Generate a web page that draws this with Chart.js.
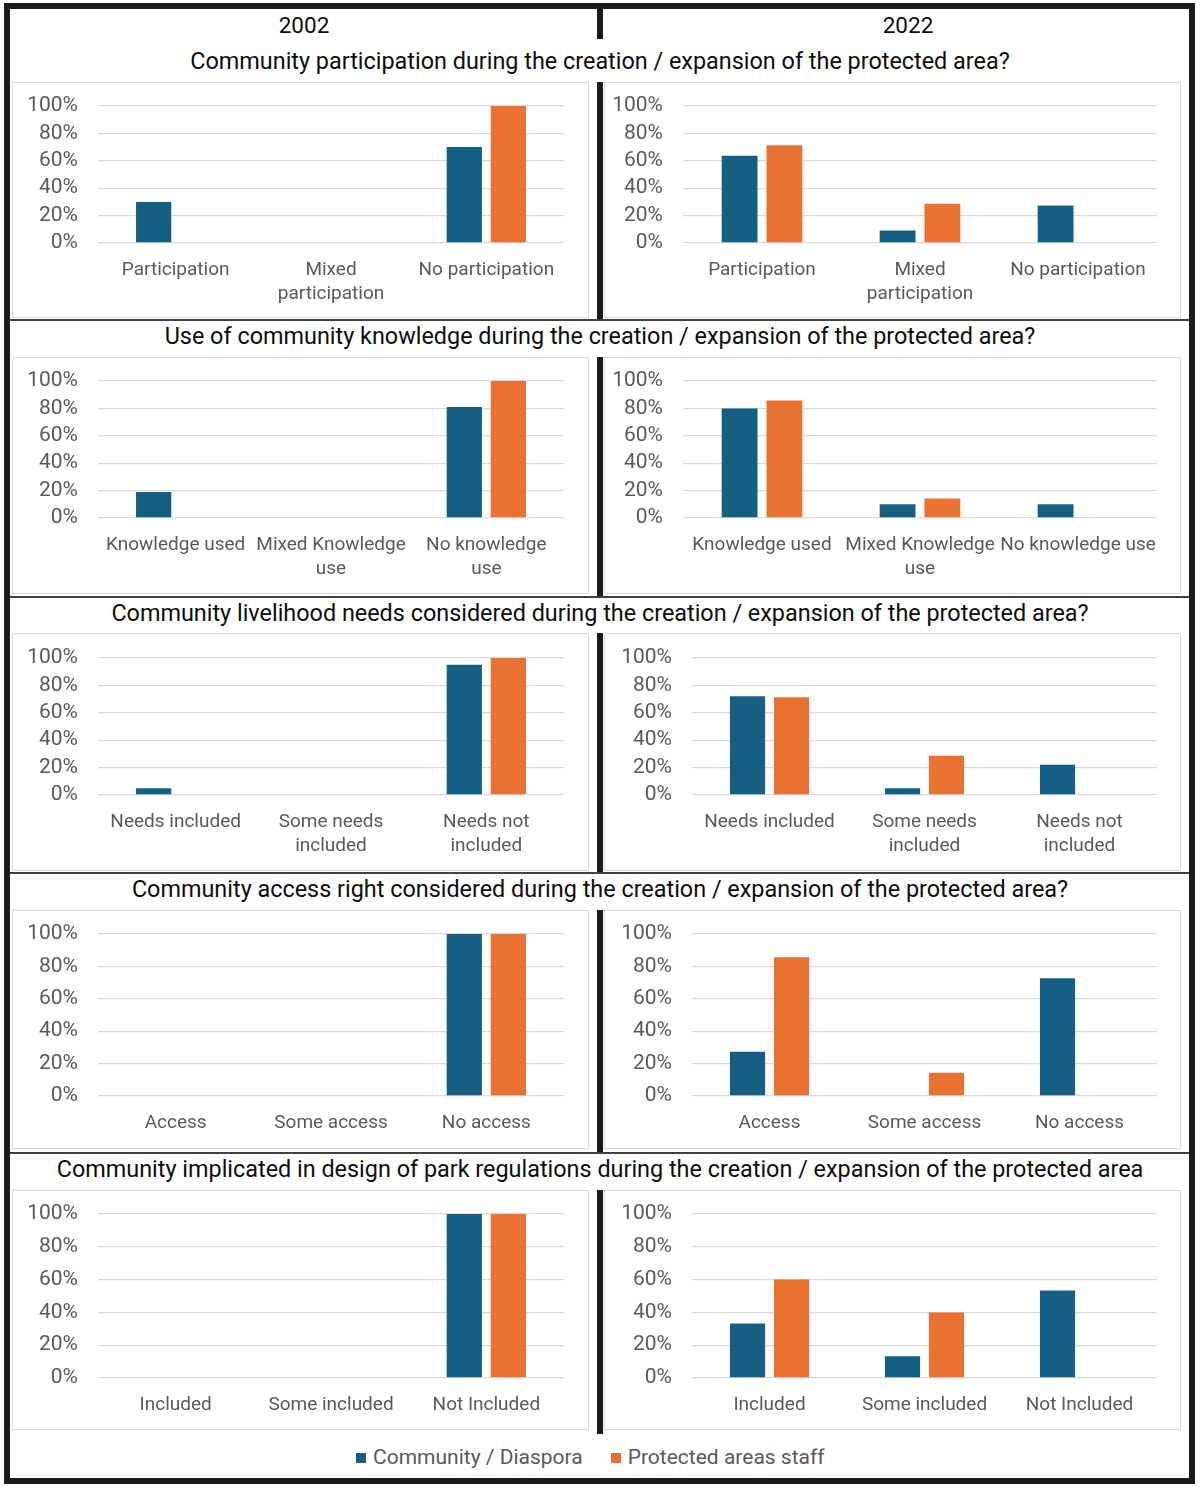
<!DOCTYPE html>
<html>
<head>
<meta charset="utf-8">
<script src="https://cdn.jsdelivr.net/npm/chart.js@4"></script>
<style>
  body { margin: 0; background: #fff; font-family: Roboto, sans-serif; }
  #page { position: relative; width: 1200px; height: 1487px; overflow: hidden; background: #fff; }
  .frame { position: absolute; left: 4px; top: 3px; width: 1191px; height: 1481px; border: 6px solid #1b1b1b; box-sizing: border-box; }
  .box { position: absolute; border: 1px solid #d9d9d9; box-sizing: border-box; }
  .panel { position: absolute; }
  .panel canvas { display: block; }
  .divider { position: absolute; left: 597px; width: 6px; background: #1b1b1b; }
  .sep { position: absolute; left: 10px; width: 1179px; height: 2px; background: #404040; }
  .title { position: absolute; left: 10px; width: 1180px; text-align: center; font-size: 23.4px; line-height: 26px; color: #0d0d0d; white-space: nowrap; }
  .year { position: absolute; width: 200px; text-align: center; font-size: 22.5px; line-height: 26px; color: #0d0d0d; }
  .legend { position: absolute; top: 1445px; font-size: 21px; line-height: 24px; color: #595959; white-space: nowrap; }
  .legend span.sw { display: inline-block; width: 10px; height: 10px; margin-right: 7px; vertical-align: 1px; }
</style>
</head>
<body>
<div id="page"></div>
<script>
// data
const years = ['2002', '2022'];
const questions = [
  'Community participation during the creation / expansion of the protected area?',
  'Use of community knowledge during the creation / expansion of the protected area?',
  'Community livelihood needs considered during the creation / expansion of the protected area?',
  'Community access right considered during the creation / expansion of the protected area?',
  'Community implicated in design of park regulations during the creation / expansion of the protected area'
];
const categories2002 = [
  ['Participation', ['Mixed', 'participation'], 'No participation'],
  ['Knowledge used', ['Mixed Knowledge', 'use'], ['No knowledge', 'use']],
  ['Needs included', ['Some needs', 'included'], ['Needs not', 'included']],
  ['Access', 'Some access', 'No access'],
  ['Included', 'Some included', 'Not Included']
];
const categories2022 = [
  ['Participation', ['Mixed', 'participation'], 'No participation'],
  ['Knowledge used', ['Mixed Knowledge', 'use'], 'No knowledge use'],
  ['Needs included', ['Some needs', 'included'], ['Needs not', 'included']],
  ['Access', 'Some access', 'No access'],
  ['Included', 'Some included', 'Not Included']
];
const seriesNames = ['Community / Diaspora', 'Protected areas staff'];
const community2002 = [[30, 0, 70], [19, 0, 81], [5, 0, 95], [0, 0, 100], [0, 0, 100]];
const staff2002 = [[0, 0, 100], [0, 0, 100], [0, 0, 100], [0, 0, 100], [0, 0, 100]];
const community2022 = [[63.6, 9.1, 27.3], [80, 10, 10], [72, 5, 22], [27.3, 0, 72.7], [33.3, 13.3, 53.3]];
const staff2022 = [[71.4, 28.6, 0], [85.7, 14.3, 0], [71.4, 28.6, 0], [85.7, 14.3, 0], [60, 40, 0]];
const yTicks = [0, 20, 40, 60, 80, 100];

const colors = ['#156082', '#E97132'];

// layout (pixels on the page)
const rows = [
  { titleY: 48, top: 82, bottom: 318, gridTop: 106, gridBottom: 243, rightGridLeft: 683, sepY: 319 },
  { titleY: 323, top: 357, bottom: 594, gridTop: 381, gridBottom: 518, rightGridLeft: 683, sepY: 596 },
  { titleY: 600, top: 633, bottom: 871, gridTop: 658, gridBottom: 795, rightGridLeft: 692, sepY: 872 },
  { titleY: 876, top: 910, bottom: 1149, gridTop: 934, gridBottom: 1096, rightGridLeft: 692, sepY: 1152 },
  { titleY: 1156, top: 1190, bottom: 1430, gridTop: 1214, gridBottom: 1378, rightGridLeft: 692, sepY: null }
];
const cols = [
  { left: 12, right: 589, gridRight: 564, yearX: 304 },
  { left: 604, right: 1181, gridRight: 1157, yearX: 908 }
];

const page = document.getElementById('page');
function el(cls, style, text) {
  const d = document.createElement('div');
  d.className = cls;
  Object.assign(d.style, style);
  if (text) d.textContent = text;
  page.appendChild(d);
  return d;
}

Chart.defaults.font.family = 'Roboto, sans-serif';
Chart.defaults.animation = false;

el('frame', {});
el('divider', { top: '9px', height: '30px' });
years.forEach((y, i) => el('year', { left: (cols[i].yearX - 100) + 'px', top: '12px' }, y));

rows.forEach((r, ri) => {
  el('title', { top: r.titleY + 'px' }, questions[ri]);
  el('divider', { top: r.top + 'px', height: ((r.sepY || 1433) - r.top + 1) + 'px' });
  if (r.sepY) el('sep', { top: r.sepY + 'px' });

  cols.forEach((c, ci) => {
    const w = c.right - c.left, h = r.bottom - r.top;
    el('box', { left: c.left + 'px', top: r.top + 'px', width: w + 'px', height: h + 'px' });
    const holder = el('panel', { left: c.left + 'px', top: r.top + 'px', width: w + 'px', height: h + 'px' });
    const cv = document.createElement('canvas');
    cv.width = w; cv.height = h;
    cv.style.width = w + 'px'; cv.style.height = h + 'px';
    holder.appendChild(cv);

    const gridLeft = ci === 0 ? 98 : r.rightGridLeft;
    const wantTop = r.gridTop - r.top, wantBottom = r.gridBottom - r.top;
    const fit = { yw: gridLeft - c.left, xh: r.bottom - r.gridBottom };
    const labels = ci === 0 ? categories2002[ri] : categories2022[ri];
    const comm = ci === 0 ? community2002[ri] : community2022[ri];
    const staff = ci === 0 ? staff2002[ri] : staff2022[ri];

    const chart = new Chart(cv, {
      type: 'bar',
      data: {
        labels: labels,
        datasets: [
          { label: seriesNames[0], data: comm, backgroundColor: colors[0] },
          { label: seriesNames[1], data: staff, backgroundColor: colors[1] }
        ]
      },
      options: {
        responsive: false,
        maintainAspectRatio: false,
        animation: false,
        datasets: { bar: { categoryPercentage: 0.567, barPercentage: 0.8 } },
        layout: { padding: { left: 0, right: c.right - c.gridRight, top: wantTop, bottom: 0 } },
        plugins: { legend: { display: false }, tooltip: { enabled: false } },
        scales: {
          x: {
            grid: { display: false, drawTicks: false },
            border: { display: false },
            ticks: { color: '#595959', font: { size: 19, lineHeight: 1.26 }, padding: 15.5, maxRotation: 0, autoSkip: false },
            afterFit: s => { s.height = fit.xh; }
          },
          y: {
            min: 0, max: 100,
            // invisible tick marks hold the labels away from the plot
            grid: { color: '#d9d9d9', lineWidth: 1.3, drawTicks: true, tickLength: 20, tickColor: 'rgba(0,0,0,0)' },
            border: { display: false },
            ticks: { color: '#595959', font: { size: 21 }, padding: 0, autoSkip: false, callback: v => v + '%' },
            afterBuildTicks: s => { s.ticks = yTicks.map(v => ({ value: v })); },
            afterFit: s => { s.width = fit.yw; }
          }
        }
      }
    });

    // nudge the plot area onto the reference grid
    for (let k = 0; k < 3; k++) {
      const a = chart.chartArea;
      const dt = wantTop - a.top, db = a.bottom - wantBottom;
      if (Math.abs(dt) < 0.5 && Math.abs(db) < 0.5) break;
      chart.options.layout.padding.top += dt;
      fit.xh += db;
      chart.update();
    }
  });
});

// legend
const lg = el('legend', { left: '356px' });
seriesNames.forEach((n, i) => {
  const sw = document.createElement('span');
  sw.className = 'sw';
  sw.style.background = colors[i];
  lg.appendChild(sw);
  const t = document.createElement('span');
  t.textContent = n;
  t.style.marginRight = i === 0 ? '28px' : '0';
  lg.appendChild(t);
});
</script>
</body>
</html>
